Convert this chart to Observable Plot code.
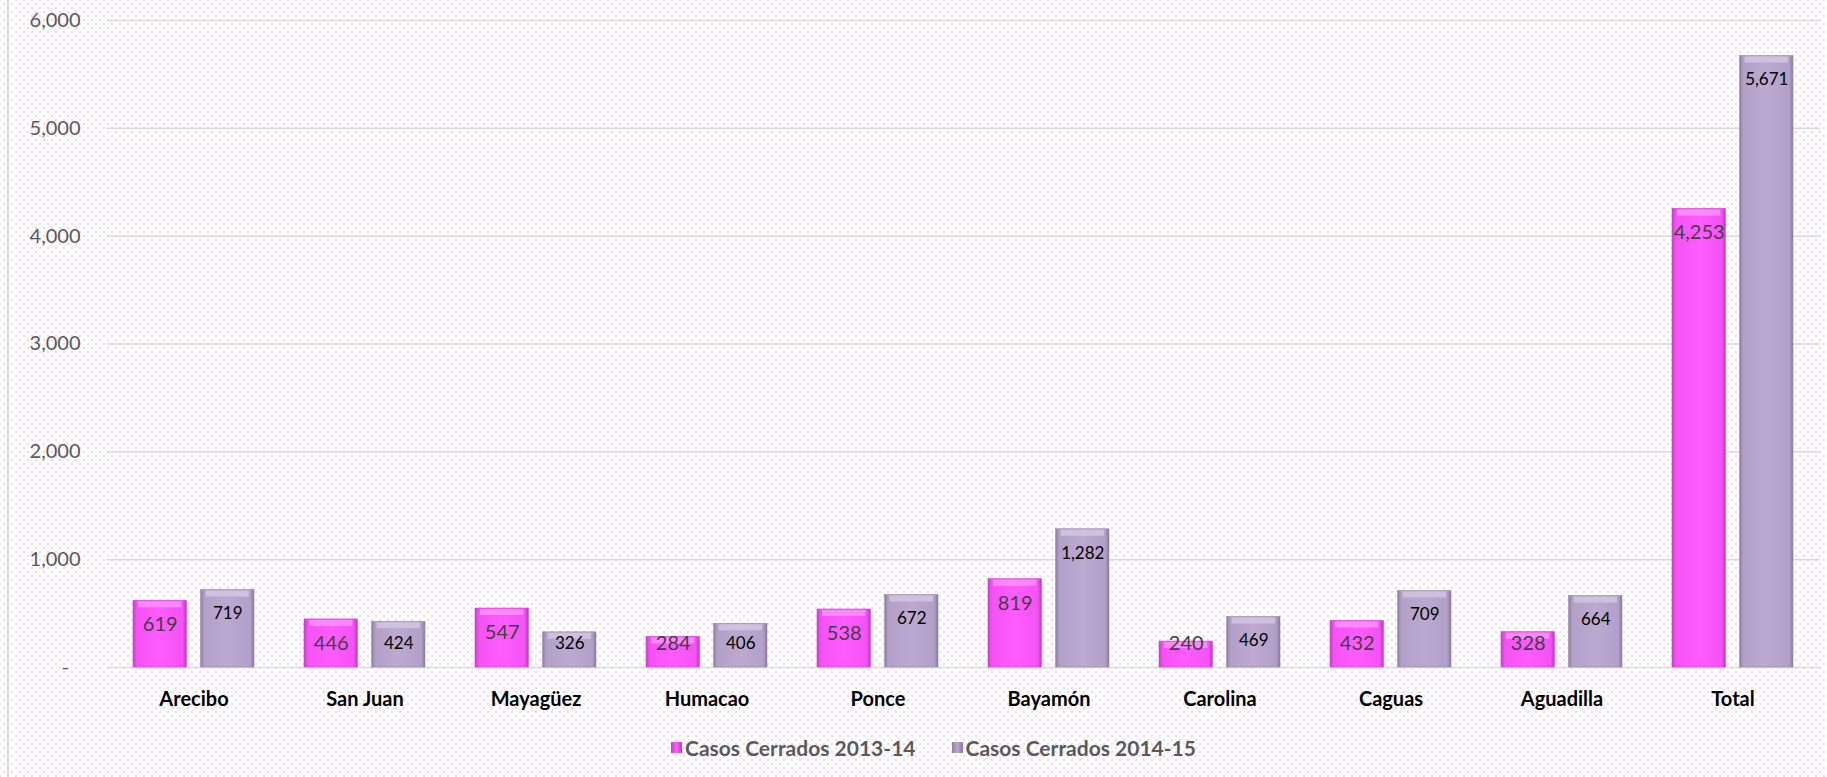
<!DOCTYPE html>
<html>
<head>
<meta charset="utf-8">
<script src="https://cdn.jsdelivr.net/npm/d3@7"></script>
<script src="https://cdn.jsdelivr.net/npm/@observablehq/plot@0.6"></script>
<style>
  body { margin: 0; }
  #wrap {
    position: relative; width: 1827px; height: 777px; overflow: hidden;
    background-color: #fff;
    background-image:
      radial-gradient(circle, #f6d3f0 1px, transparent 1.6px),
      radial-gradient(circle, #f6d3f0 1px, transparent 1.6px);
    background-size: 8px 8px, 8px 8px;
    background-position: 0 0, 4px 4px;
    font-family: Lato, "Open Sans", sans-serif;
  }
  #wrap::before { content: ""; position: absolute; left: 7px; top: 0; bottom: 0; width: 2px; background: #d9d9d9; }
  #chart svg { display: block; }
  #legend {
    height: 44px; display: flex; justify-content: center; align-items: center;
    padding-left: 40px; gap: 36px;
    font-weight: 700; font-size: 21px; color: #595959;
  }
  .item { display: flex; align-items: center; gap: 3px; }
  .sw { width: 11px; height: 11px; display: inline-block; }
</style>
</head>
<body>
<div id="wrap">
  <div id="chart"></div>
  <div id="legend"></div>
</div>
<script>
const regions = ["Arecibo", "San Juan", "Mayagüez", "Humacao", "Ponce", "Bayamón", "Carolina", "Caguas", "Aguadilla", "Total"];
const casos2013 = [619, 446, 547, 284, 538, 819, 240, 432, 328, 4253];
const casos2014 = [719, 424, 326, 406, 672, 1282, 469, 709, 664, 5671];
const seriesNames = ["Casos Cerrados 2013-14", "Casos Cerrados 2014-15"];
const yTicks = [0, 1000, 2000, 3000, 4000, 5000, 6000];

const d2013 = regions.map((r, i) => ({region: r, value: casos2013[i]}));
const d2014 = regions.map((r, i) => ({region: r, value: casos2014[i]}));

// layout
const W = 1827, H = 725, mL = 107, mR = 7, mT = 20, mB = 58;
const pIn = 0.29, pOut = 0.145;
const step = (W - mL - mR) / (regions.length - pIn + 2 * pOut);
const bandW = step * (1 - pIn);
const barW = 54;
const inset = bandW - barW;
const off = (bandW - barW) / 2;
const pxPerUnit = (H - mT - mB) / 6000;
const minLabel = 48 / pxPerUnit;

const fmt = d3.format(",");

const defsMark = () => {
  const defs = d3.create("svg:defs");
  const mk = (id, stops) => {
    const g = defs.append("linearGradient").attr("id", id)
      .attr("x1", 0).attr("x2", 1).attr("y1", 0).attr("y2", 0);
    stops.forEach(([o, c]) => g.append("stop").attr("offset", o).attr("stop-color", c));
  };
  mk("gPink", [[0, "#c93cc9"], [0.07, "#f552f5"], [0.5, "#ff5cff"], [0.93, "#f552f5"], [1, "#bf36bf"]]);
  mk("gPurple", [[0, "#8f7ea3"], [0.07, "#b3a0c9"], [0.5, "#bba9d0"], [0.93, "#b3a0c9"], [1, "#887899"]]);
  return defs.node();
};

const plot = Plot.plot({
  width: W, height: H,
  marginLeft: mL, marginRight: mR, marginTop: mT, marginBottom: mB,
  style: {fontFamily: "Lato, 'Open Sans', sans-serif", fontSize: "20px", color: "#595959", background: "transparent", overflow: "visible"},
  x: {domain: regions, paddingInner: pIn, paddingOuter: pOut, tickSize: 0, tickPadding: 24, label: null},
  y: {domain: [0, 6000], ticks: yTicks, tickFormat: d => d === 0 ? "-\u2007" : fmt(d), tickSize: 0, tickPadding: 27, label: null},
  marks: [
    defsMark,
    Plot.ruleY(yTicks, {stroke: "#d9d9d9", strokeWidth: 1.5}),
    Plot.barY(d2013, {x: "region", y: "value", fill: "url(#gPink)", insetRight: inset, stroke: "#d045d0", strokeWidth: 0.6}),
    Plot.barY(d2014, {x: "region", y: "value", fill: "url(#gPurple)", insetLeft: inset, stroke: "#9a88ad", strokeWidth: 0.6}),
    Plot.tickY(d2013, {x: "region", y: "value", stroke: "#ff9cff", strokeOpacity: 0.7, strokeWidth: 6, dy: 3.5, insetLeft: 5, insetRight: inset + 5}),
    Plot.tickY(d2014, {x: "region", y: "value", stroke: "#d8cce6", strokeOpacity: 0.7, strokeWidth: 6, dy: 3.5, insetLeft: inset + 5, insetRight: 5}),
    Plot.text(d2013, {x: "region", y: d => Math.max(d.value, minLabel), text: d => fmt(d.value), dx: -off, dy: 24, fill: "#404040", fontSize: 20}),
    Plot.text(d2014, {x: "region", y: d => Math.max(d.value, minLabel), text: d => fmt(d.value), dx: off, dy: 24, fill: "#000000", fontSize: 17})
  ]
});

plot.querySelectorAll('[aria-label^="x-axis"] text').forEach(t => {
  t.setAttribute("fill", "#000");
  t.style.fill = "#000";
  t.style.fontWeight = "bold";
  t.style.fontSize = "20px";
});
document.getElementById("chart").appendChild(plot);

const legend = d3.select("#legend");
const swFills = ["linear-gradient(90deg,#c93cc9,#ff5cff 50%,#bf36bf)", "linear-gradient(90deg,#8f7ea3,#bba9d0 50%,#887899)"];
seriesNames.forEach((n, i) => {
  const it = legend.append("div").attr("class", "item");
  it.append("span").attr("class", "sw").style("background", swFills[i]);
  it.append("span").text(n);
});
</script>
</body>
</html>
